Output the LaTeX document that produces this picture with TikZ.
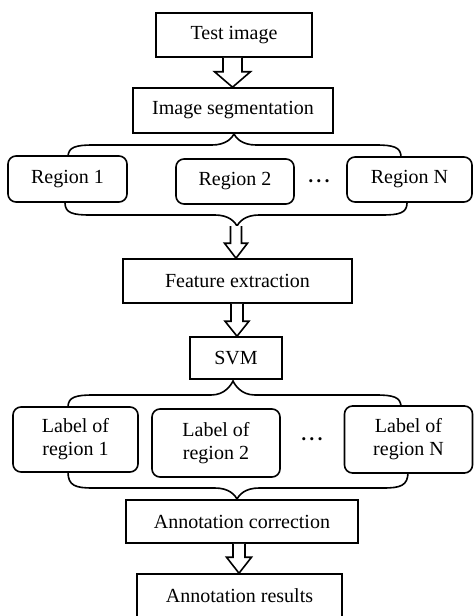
\documentclass[tikz,border=0pt]{standalone}
\usepackage{fontspec}
\setmainfont{Liberation Serif}
\usetikzlibrary{calc}
% block (hollow) arrow: from anchor, to node, x, stem half-width, head half-width, head length
\newcommand\blockarr[6]{\draw[barr] let \p1=(#1), \p2=(#2.north), \p3=(#3,0) in
 (\x3-#4pt,\y1) -- (\x3-#4pt,\y2+#6pt) -- (\x3-#5pt,\y2+#6pt) -- (\x3,\y2)
 -- (\x3+#5pt,\y2+#6pt) -- (\x3+#4pt,\y2+#6pt) -- (\x3+#4pt,\y1);}
% brace with tip on top: L, R, tipx, tipy, h, endy
\newcommand\bracetipup[6]{\draw[conn] (#1,#6) .. controls (#1,#5+2) and (#1+8,#5) .. (#1+25,#5)
 -- (#3-22,#5) .. controls (#3-8,#5) and (#3-2,#4+4) .. (#3,#4)
 .. controls (#3+2,#4+4) and (#3+8,#5) .. (#3+22,#5)
 -- (#2-25,#5) .. controls (#2-8,#5) and (#2,#5+2) .. (#2,#6);}
% brace with tip at bottom
\newcommand\bracetipdown[6]{\draw[conn] (#1,#6) .. controls (#1,#5-2) and (#1+8,#5) .. (#1+25,#5)
 -- (#3-22,#5) .. controls (#3-8,#5) and (#3-2,#4-4) .. (#3,#4)
 .. controls (#3+2,#4-4) and (#3+8,#5) .. (#3+22,#5)
 -- (#2-25,#5) .. controls (#2-8,#5) and (#2,#5-2) .. (#2,#6);}
\begin{document}
\begin{tikzpicture}[x=1pt,y=-1pt,
  box/.style={draw, line width=1.6pt, fill=white, inner sep=0pt, align=center,
    font=\fontsize{20}{23}\selectfont},
  rbox/.style={box, rounded corners=8pt},
  conn/.style={line width=1.6pt},
  barr/.style={line width=1.6pt, fill=white, line join=miter},
  dots/.style={inner sep=0pt, font=\fontsize{13}{13}\selectfont}]
\useasboundingbox (0,0) rectangle (474,616);
\clip (0,0) rectangle (474,616);

% braces (drawn first, ends tucked under the boxes)
\bracetipup{68}{401}{234}{134}{145}{157}
\bracetipdown{65}{407}{237}{226}{215}{203}
\bracetipup{68}{401}{233}{381}{395}{407}
\bracetipdown{68}{408}{237}{499}{488}{472}
\coordinate (b1) at (237,226);
\coordinate (b2) at (237,499);

% boxes
\node[box, minimum width=156pt, minimum height=44pt] (test) at (234,35) {Test image};
\node[box, minimum width=200pt, minimum height=45pt] (seg) at (233,110.5) {Image segmentation};
\node[rbox, minimum width=119pt, minimum height=46pt] (r1) at (67.5,179) {Region 1};
\node[rbox, minimum width=118pt, minimum height=45pt] (r2) at (235,181.5) {Region 2};
\node[dots] (d1) at (319,183) {•\hspace{3.5pt}•\hspace{3.5pt}•};
\node[rbox, minimum width=125pt, minimum height=45pt] (rN) at (409.5,179.5) {Region N};
\node[box, minimum width=229pt, minimum height=44pt] (feat) at (237.5,281) {Feature extraction};
\node[box, minimum width=92pt, minimum height=42pt] (svm) at (236,358) {SVM};
\node[rbox, minimum width=125pt, minimum height=65pt] (l1) at (75.5,439.5) {Label of\\region 1};
\node[rbox, minimum width=128pt, minimum height=68pt] (l2) at (216,443) {Label of\\region 2};
\node[dots] (d2) at (312,441) {•\hspace{3.5pt}•\hspace{3.5pt}•};
\node[rbox, minimum width=128pt, minimum height=67pt] (lN) at (408.5,439.5) {Label of\\region N};
\node[box, minimum width=232pt, minimum height=43pt] (corr) at (242,521.5) {Annotation correction};
\node[box, minimum width=205pt, minimum height=44pt] (res) at (239.5,596) {Annotation results};

% block arrows
\blockarr{test.south}{seg}{232.5}{9.5}{18}{15.5}
\blockarr{b1}{feat}{236}{5.5}{11.5}{15}
\blockarr{feat.south}{svm}{237}{6}{12}{15}
\blockarr{corr.south}{res}{239}{6}{12.5}{16}
\end{tikzpicture}
\end{document}
